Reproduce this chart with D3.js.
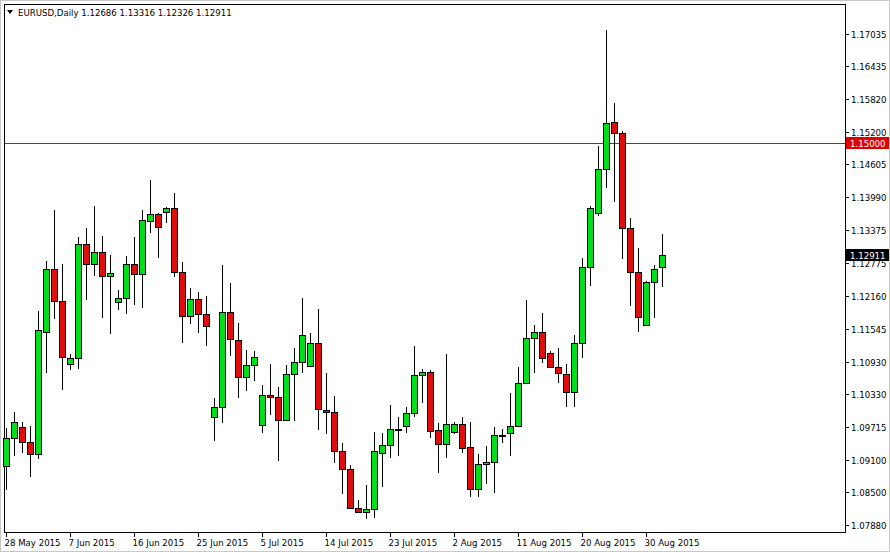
<!DOCTYPE html>
<html><head><meta charset="utf-8">
<script src="https://cdn.jsdelivr.net/npm/d3@7"></script>
<style>body{margin:0;background:#fff}svg{display:block}text{font-family:Tahoma,"DejaVu Sans",sans-serif;font-size:8.6px}</style>
</head><body>
<svg id="c" width="890" height="552"></svg>
<script>
const opens  = [1.0898,1.0951,1.0971,1.0943,1.0921,1.1148,1.1266,1.1206,1.1089,1.1100,1.1312,1.1275,1.1297,1.1253,1.1204,1.1212,1.1275,1.1256,1.1355,1.1368,1.1372,1.1379,1.1260,1.1178,1.1210,1.1182,1.0990,1.1008,1.1185,1.1133,1.1064,1.1087,1.0975,1.1031,1.1027,1.0984,1.1070,1.1092,1.1085,1.1128,1.1003,1.0999,1.0926,1.0893,1.0820,1.0813,1.0818,1.0924,1.0938,1.0967,1.0973,1.0997,1.1068,1.1074,1.0966,1.0939,1.0962,1.0977,1.0934,1.0856,1.0902,1.0906,1.0956,1.0960,1.0973,1.1053,1.1137,1.1148,1.1109,1.1083,1.1070,1.1036,1.1128,1.1269,1.1370,1.1452,1.1540,1.1519,1.1342,1.1260,1.1161,1.1241,1.12686];
const highs  = [1.0969,1.0999,1.0980,1.0973,1.1187,1.1281,1.1376,1.1275,1.1107,1.1325,1.1342,1.1383,1.1327,1.1292,1.1226,1.1290,1.1325,1.1376,1.1431,1.1370,1.1381,1.1407,1.1279,1.1230,1.1223,1.1215,1.1025,1.1273,1.1240,1.1165,1.1115,1.1113,1.1049,1.1089,1.1046,1.1087,1.1118,1.1212,1.1146,1.1191,1.1072,1.1029,1.0941,1.0900,1.0835,1.0863,1.0962,1.0960,1.1012,1.0990,1.1008,1.1122,1.1079,1.1077,1.0979,1.1107,1.0980,1.0990,1.0980,1.0921,1.0936,1.0971,1.0967,1.1035,1.1083,1.1208,1.1161,1.1184,1.1112,1.1118,1.1089,1.1143,1.1286,1.1383,1.1495,1.1711,1.1575,1.1523,1.1361,1.1305,1.1243,1.1273,1.13316];
const lows   = [1.0854,1.0917,1.0923,1.0878,1.0912,1.1072,1.1172,1.1040,1.1077,1.1079,1.1208,1.1253,1.1174,1.1144,1.1189,1.1182,1.1199,1.1193,1.1333,1.1286,1.1351,1.1251,1.1128,1.1163,1.1146,1.1122,1.0945,1.0979,1.1103,1.1025,1.1038,1.1057,1.0960,1.0994,1.0908,1.0984,1.0982,1.1072,1.1085,1.0966,1.0958,1.0904,1.0846,1.0820,1.0813,1.0800,1.0801,1.0859,1.0913,1.0917,1.0960,1.0990,1.1016,1.0951,1.0885,1.0913,1.0958,1.0923,1.0841,1.0841,1.0865,1.0848,1.0941,1.0917,1.0973,1.1051,1.1072,1.1090,1.1083,1.1053,1.1008,1.1008,1.1100,1.1234,1.1364,1.1417,1.1390,1.1284,1.1197,1.1148,1.1159,1.1174,1.12326];
const closes = [1.0951,1.0980,1.0943,1.0921,1.1152,1.1266,1.1206,1.1102,1.1100,1.1312,1.1275,1.1297,1.1253,1.1258,1.1212,1.1275,1.1256,1.1357,1.1368,1.1344,1.1379,1.1260,1.1178,1.1210,1.1182,1.1159,1.1008,1.1185,1.1135,1.1064,1.1087,1.1102,1.1031,1.1027,1.0984,1.1070,1.1092,1.1143,1.1128,1.1005,1.0999,1.0926,1.0893,1.0820,1.0813,1.0818,1.0926,1.0938,1.0967,1.0968,1.0997,1.1068,1.1074,1.0964,1.0939,1.0977,1.0977,1.0932,1.0856,1.0902,1.0906,1.0956,1.0957,1.0973,1.1053,1.1137,1.1148,1.1100,1.1083,1.1072,1.1036,1.1128,1.1269,1.1379,1.1452,1.1538,1.1519,1.1342,1.1260,1.1176,1.1241,1.1266,1.12911];
const priceTicks = [1.17035,1.16435,1.15820,1.15200,1.14605,1.13990,1.13375,1.12775,1.12160,1.11545,1.10930,1.10330,1.09715,1.09100,1.08500,1.07880];
const dateLabels = ["28 May 2015","7 Jun 2015","16 Jun 2015","25 Jun 2015","5 Jul 2015","14 Jul 2015","23 Jul 2015","2 Aug 2015","11 Aug 2015","20 Aug 2015","30 Aug 2015"];
const dateLabelIdx = [0,8,16,24,32,40,48,56,64,72,80];
const levelLine = 1.15000;
const title = "EURUSD,Daily  1.12686 1.13316 1.12326 1.12911";

const svg = d3.select("#c");
const L=4,R=845,T=4,B=532;
svg.append("rect").attr("x",0.5).attr("y",0.5).attr("width",889).attr("height",551).attr("fill","#fff").attr("stroke","#c8c8c8");
svg.append("rect").attr("x",L+0.5).attr("y",T+0.5).attr("width",R-L).attr("height",B-T).attr("fill","#fff").attr("stroke","#000");
const y = d3.scaleLinear().domain([1.17035-(B-34)/5366,1.17035+(34-T)/5366]).range([B,T]);
const x = d3.scaleLinear().domain([0,1]).range([6,14]);
const idx = d3.range(opens.length);
// level line (solid red band)
const ly=Math.round(y(levelLine));
svg.append("rect").attr("x",L+1).attr("width",R-L-1).attr("y",ly).attr("height",1).attr("fill","#f00000");
const g = svg.append("g");
g.selectAll("line.w").data(idx).join("line")
 .attr("x1",i=>Math.round(x(i))+0.5).attr("x2",i=>Math.round(x(i))+0.5)
 .attr("y1",i=>Math.round(y(highs[i]))).attr("y2",i=>Math.round(y(lows[i])))
 .attr("stroke","#000").attr("stroke-width",1);
g.selectAll("rect.b").data(idx).join("rect")
 .attr("x",i=>Math.round(x(i))-2.5).attr("width",6)
 .attr("y",i=>Math.round(y(Math.max(opens[i],closes[i])))+0.5)
 .attr("height",i=>Math.max(1,Math.round(Math.abs(y(opens[i])-y(closes[i])))))
 .attr("fill",i=>closes[i]>=opens[i]?"#00e01a":"#e00d0d")
 .attr("stroke","#000").attr("stroke-width",1);
// right axis
const ax=svg.append("g");
priceTicks.forEach(p=>{const yy=Math.round(y(p))+0.5;
 ax.append("line").attr("x1",R).attr("x2",R+4).attr("y1",yy).attr("y2",yy).attr("stroke","#000");
 ax.append("text").attr("x",R+6).attr("y",yy+3).text(p.toFixed(5));});
function box(p,fill){const yy=Math.round(y(p));
 ax.append("rect").attr("x",R+1).attr("y",yy-6).attr("width",43).attr("height",12).attr("fill",fill);
 ax.append("text").attr("x",R+5).attr("y",yy+3.5).attr("fill","#fff").text(p.toFixed(5));}
box(levelLine,"#e00000");
box(closes[closes.length-1],"#000");
// bottom axis
dateLabelIdx.forEach((i,k)=>{const xx=Math.round(x(i))+0.5;
 svg.append("line").attr("x1",xx).attr("x2",xx).attr("y1",B).attr("y2",B+5).attr("stroke","#000");
 svg.append("text").attr("x",xx-2).attr("y",B+14).text(dateLabels[k]);});
// title
svg.append("path").attr("d","M7,10 L13,10 L10,14 Z").attr("fill","#000");
svg.append("text").attr("x",18).attr("y",16).text(title);
</script></body></html>
